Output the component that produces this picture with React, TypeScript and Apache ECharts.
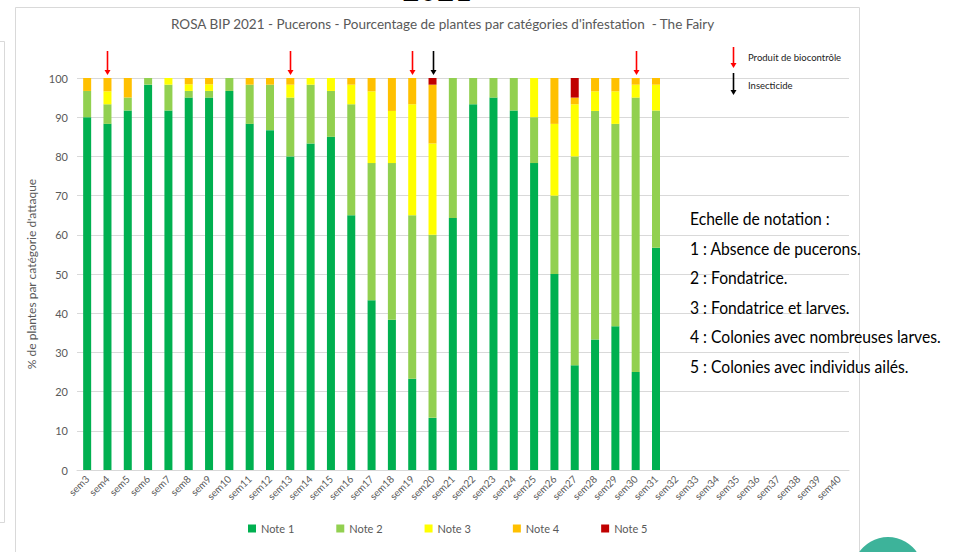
import React, { useEffect, useRef } from "react";
import * as echarts from "echarts";

const weeks = Array.from({ length: 38 }, (_, i) => "sem" + (i + 3));

// sem3 .. sem31 (29 values), sem32..sem40 empty
const note1 = [90, 88.3, 91.7, 98.3, 91.7, 95, 95, 96.7, 88.3, 86.7, 80, 83.3, 85, 65, 43.3, 38.3, 23.3, 13.3, 64.3, 93.3, 95, 91.7, 78.3, 50, 26.7, 33.3, 36.7, 25, 56.7];
const note2 = [6.7, 5, 3.3, 1.7, 6.6, 1.7, 1.7, 3.3, 10, 11.6, 15, 15, 11.7, 28.3, 35, 40, 41.7, 46.7, 35.7, 6.7, 5, 8.3, 11.7, 20, 53.3, 58.3, 51.6, 70, 35];
const note3 = [0, 3.3, 0, 0, 1.7, 1.7, 1.7, 0, 0, 0, 3.3, 1.7, 3.3, 5, 18.3, 13.3, 28.3, 23.3, 0, 0, 0, 0, 10, 18.3, 13.3, 5, 8.3, 3.3, 6.6];
const note4 = [3.3, 3.4, 5, 0, 0, 1.6, 1.6, 0, 1.7, 1.7, 1.7, 0, 0, 1.7, 3.4, 8.4, 6.7, 15, 0, 0, 0, 0, 0, 11.7, 1.7, 3.4, 3.4, 1.7, 1.7];
const note5 = [0, 0, 0, 0, 0, 0, 0, 0, 0, 0, 0, 0, 0, 0, 0, 0, 0, 1.7, 0, 0, 0, 0, 0, 0, 5, 0, 0, 0, 0];

const seriesNames = ["Note 1", "Note 2", "Note 3", "Note 4", "Note 5"];
const seriesColors = ["#00B050", "#92D050", "#FFFF00", "#FFC000", "#C00000"];

const biocontrolWeeks = ["sem4", "sem13", "sem19", "sem30"];
const insecticideWeeks = ["sem20"];

const scaleLines = [
  "Echelle de notation :",
  "1 : Absence de pucerons.",
  "2 : Fondatrice.",
  "3 : Fondatrice et larves.",
  "4 : Colonies avec nombreuses larves.",
  "5 : Colonies avec individus ailés.",
];

const FONT = "Lato, 'Open Sans', sans-serif";

function pad(arr: number[]) {
  const out: (number | null)[] = arr.map((v) => (v === 0 ? null : v));
  while (out.length < weeks.length) out.push(null);
  return out;
}

function arrow(x: number, y1: number, y2: number, color: string) {
  return [
    { type: "line", shape: { x1: x, y1: y1, x2: x, y2: y2 - 4 }, style: { stroke: color, lineWidth: 1.6 } },
    { type: "polygon", shape: { points: [[x - 3, y2 - 5], [x + 3, y2 - 5], [x, y2]] }, style: { fill: color } },
  ];
}

export default function App() {
  const ref = useRef<HTMLDivElement>(null);
  useEffect(() => {
    document.body.style.margin = "0";
    const chart = echarts.init(ref.current!, null, { renderer: "svg" });
    const all = [note1, note2, note3, note4, note5];
    chart.setOption({
      animation: false,
      backgroundColor: "#ffffff",
      title: {
        text: "ROSA BIP 2021 - Pucerons - Pourcentage de plantes par catégories d'infestation  - The Fairy",
        left: 166,
        top: 12,
        textStyle: { fontSize: 13.5, fontWeight: "normal", color: "#595959", fontFamily: FONT },
      },
      legend: {
        data: seriesNames,
        left: 243,
        top: 518,
        itemWidth: 8,
        itemHeight: 8,
        itemGap: 42,
        icon: "rect",
        textStyle: { fontSize: 11, color: "#595959", fontFamily: FONT },
      },
      grid: { left: 77, right: 104, top: 78, bottom: 82, containLabel: false },
      xAxis: {
        type: "category",
        data: weeks,
        axisTick: { show: false },
        axisLine: { lineStyle: { color: "#d9d9d9" } },
        axisLabel: { interval: 0, rotate: 45, fontSize: 10, color: "#595959", fontFamily: FONT, margin: 7 },
      },
      yAxis: {
        type: "value",
        min: 0,
        max: 100,
        interval: 10,
        name: "% de plantes par catégorie d'attaque",
        nameLocation: "middle",
        nameGap: 40,
        nameTextStyle: { fontSize: 12, color: "#595959", fontFamily: FONT },
        axisLine: { show: false },
        axisTick: { show: false },
        axisLabel: { fontSize: 11, color: "#595959", fontFamily: FONT, margin: 9 },
        splitLine: { lineStyle: { color: "#d9d9d9" } },
      },
      series: seriesNames.map((name, i) => ({
        name,
        type: "bar",
        stack: "total",
        barWidth: 8,
        itemStyle: { color: seriesColors[i] },
        data: pad(all[i]),
      })),
    });

    const graphics: any[] = [];
    graphics.push({ type: "rect", shape: { x: 15.5, y: 7.5, width: 844, height: 600 }, style: { fill: "none", stroke: "#d9d9d9", lineWidth: 1 }, z: -1 });
    graphics.push({ type: "polyline", shape: { points: [[0, 41.5], [4.5, 41.5], [4.5, 522.5], [0, 522.5]] }, style: { fill: "none", stroke: "#d9d9d9", lineWidth: 1 } });
    graphics.push({ type: "text", x: 437, y: 4, style: { text: "2021", fontSize: 30, fontFamily: FONT, fill: "#000", align: "center", verticalAlign: "bottom" } });
    biocontrolWeeks.forEach((w) => {
      const p = chart.convertToPixel({ xAxisIndex: 0, yAxisIndex: 0 }, [w, 100]) as number[];
      graphics.push(...arrow(Math.round(p[0]) + 0.5, 51, 75, "#FF0000"));
    });
    insecticideWeeks.forEach((w) => {
      const p = chart.convertToPixel({ xAxisIndex: 0, yAxisIndex: 0 }, [w, 100]) as number[];
      graphics.push(...arrow(Math.round(p[0]) + 0.5, 51, 75, "#000000"));
    });
    graphics.push(...arrow(733.5, 47, 68, "#FF0000"));
    graphics.push(...arrow(733.5, 73, 95, "#000000"));
    graphics.push({ type: "text", x: 748, y: 57, style: { text: "Produit de biocontrôle", fontSize: 9.5, fontFamily: FONT, fill: "#222", verticalAlign: "middle" } });
    graphics.push({ type: "text", x: 748, y: 85, style: { text: "Insecticide", fontSize: 9.5, fontFamily: FONT, fill: "#222", verticalAlign: "middle" } });
    scaleLines.forEach((t, i) => {
      graphics.push({ type: "text", x: 690, y: 218 + i * 29.6, style: { text: t, fontSize: 18, fontFamily: FONT, fill: "#000", verticalAlign: "middle" }, scaleX: 0.87 });
    });
    graphics.push({ type: "circle", shape: { cx: 888, cy: 572, r: 35 }, style: { fill: "#3DB39A" } });
    chart.setOption({ graphic: graphics });

    return () => chart.dispose();
  }, []);
  return <div ref={ref} style={{ width: 953, height: 552 }} />;
}
